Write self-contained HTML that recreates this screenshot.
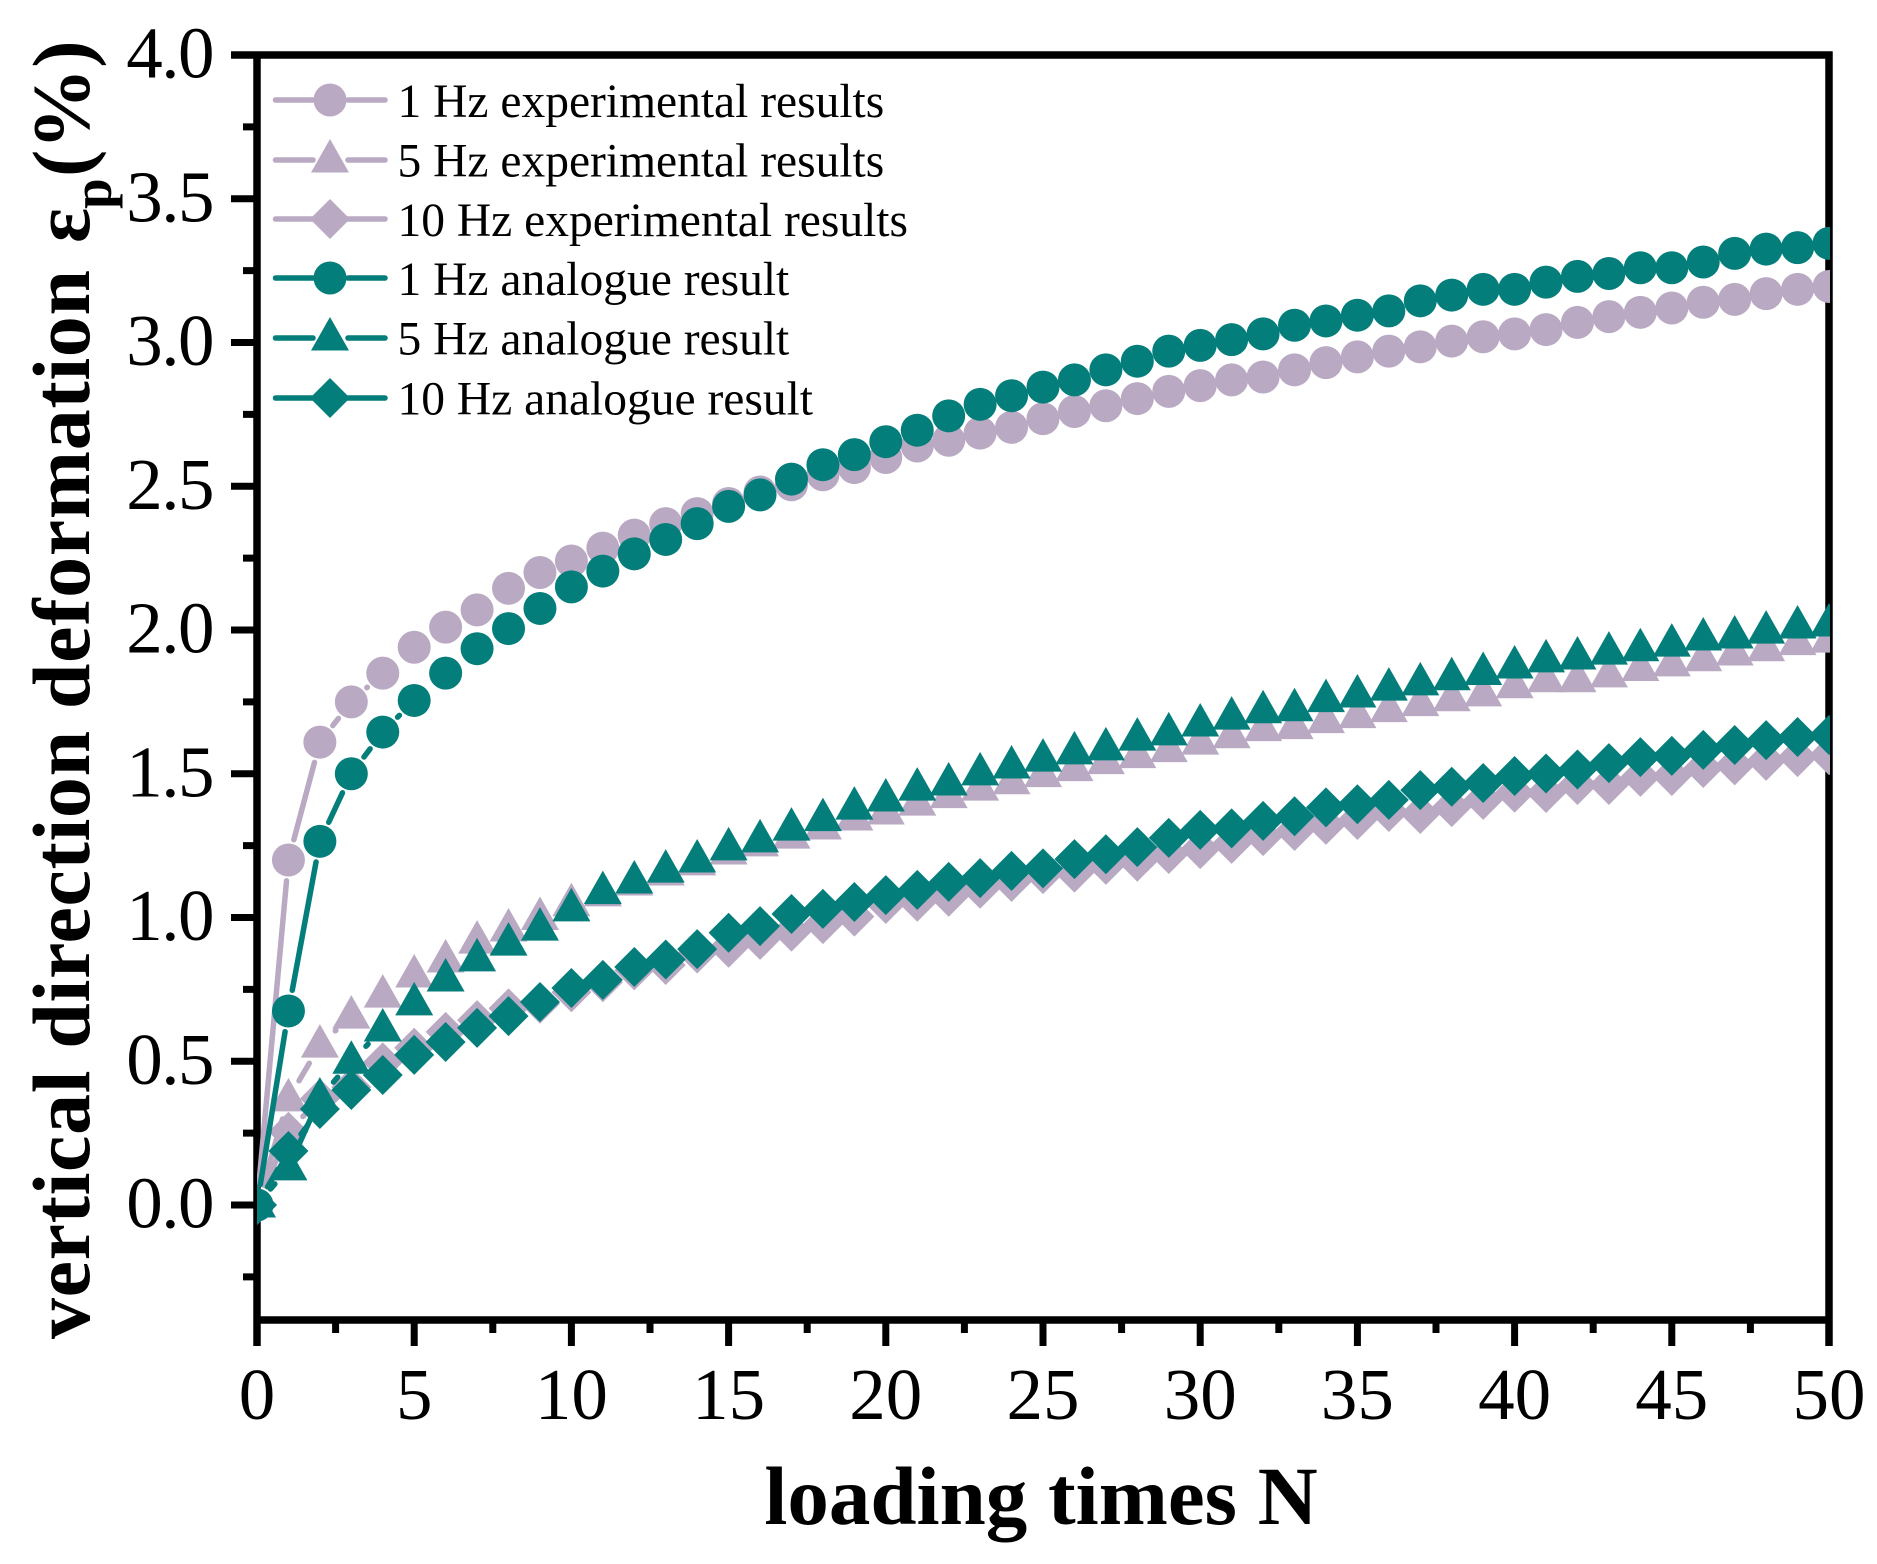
<!DOCTYPE html>
<html lang="en">
<head>
<meta charset="utf-8">
<title>Vertical direction deformation vs loading times</title>
<style>
  html, body { margin: 0; padding: 0; background: #fff; }
  svg { display: block; font-family: "Liberation Serif", "DejaVu Serif", serif; }
</style>
</head>
<body>
<svg id="chart" xmlns="http://www.w3.org/2000/svg" width="1877" height="1564" viewBox="0 0 1877 1564">
  <rect x="0" y="0" width="1877" height="1564" fill="#ffffff"/>
  <defs>
    <clipPath id="plot-clip"><rect x="257" y="55" width="1573" height="1265"/></clipPath>
  </defs>
  <g id="axes"></g>
  <g id="series" clip-path="url(#plot-clip)"></g>

  <text x="1041" y="1524" font-size="83" font-weight="bold" text-anchor="middle">loading times N</text>
  <text transform="translate(89,1339) rotate(-90)" font-size="82" font-weight="bold" textLength="1069">vertical direction deformation</text>
  <text transform="translate(89,243) rotate(-90)" font-size="82" font-weight="bold">ε</text>
  <text transform="translate(111,209) rotate(-90)" font-size="55" font-weight="bold">p</text>
  <text transform="translate(89,177) rotate(-90)" font-size="82" font-weight="bold">(%)</text>

  <g>
    <g>
      <path d="M275.500 100H313M348 100H385" stroke="#b9a9c3" stroke-width="5.500" stroke-linecap="round" fill="none"/>
      <circle cx="330" cy="100" r="16.5" fill="#b9a9c3"/>
      <text x="397.500" y="117" font-size="47.5">1 Hz experimental results</text>
    </g>
    <g>
      <path d="M275.500 160H313M348 160H385" stroke="#b9a9c3" stroke-width="5.500" stroke-linecap="round" fill="none"/>
      <polygon points="330,139 349,172.500 311,172.500" fill="#b9a9c3"/>
      <text x="397.500" y="176.500" font-size="47.5">5 Hz experimental results</text>
    </g>
    <g>
      <path d="M275.500 219H313M348 219H385" stroke="#b9a9c3" stroke-width="5.500" stroke-linecap="round" fill="none"/>
      <polygon points="330,199 350,219 330,239 310,219" fill="#b9a9c3"/>
      <text x="397.500" y="236" font-size="47.5">10 Hz experimental results</text>
    </g>
    <g>
      <path d="M275.500 278H313M348 278H385" stroke="#047e7a" stroke-width="5.500" stroke-linecap="round" fill="none"/>
      <circle cx="330" cy="278" r="16.5" fill="#047e7a"/>
      <text x="397.500" y="295" font-size="47.5">1 Hz analogue result</text>
    </g>
    <g>
      <path d="M275.500 338H313M348 338H385" stroke="#047e7a" stroke-width="5.500" stroke-linecap="round" fill="none"/>
      <polygon points="330,317 349,350.500 311,350.500" fill="#047e7a"/>
      <text x="397.500" y="354.500" font-size="47.5">5 Hz analogue result</text>
    </g>
    <g>
      <path d="M275.500 398H313M348 398H385" stroke="#047e7a" stroke-width="5.500" stroke-linecap="round" fill="none"/>
      <polygon points="330,378 350,398 330,418 310,398" fill="#047e7a"/>
      <text x="397.500" y="414.500" font-size="47.5">10 Hz analogue result</text>
    </g>
  </g>
</svg>
<script>
const loadingTimes = [0,1,2,3,4,5,6,7,8,9,10,11,12,13,14,15,16,17,18,19,20,21,22,23,24,25,26,27,28,29,30,31,32,33,34,35,36,37,38,39,40,41,42,43,44,45,46,47,48,49,50];
const exp1Hz = [0,1.2,1.61,1.75,1.85,1.94,2.01,2.07,2.145,2.2,2.24,2.285,2.33,2.37,2.405,2.44,2.48,2.505,2.54,2.565,2.6,2.64,2.66,2.685,2.705,2.735,2.76,2.78,2.805,2.83,2.85,2.87,2.88,2.905,2.93,2.95,2.97,2.985,3.005,3.02,3.03,3.045,3.07,3.09,3.105,3.12,3.14,3.15,3.17,3.185,3.195];
const exp5Hz = [0,0.369,0.556,0.657,0.73,0.8,0.852,0.918,0.96,1.0,1.048,1.082,1.12,1.155,1.19,1.228,1.256,1.283,1.315,1.346,1.367,1.398,1.424,1.45,1.472,1.497,1.518,1.542,1.563,1.584,1.61,1.632,1.657,1.664,1.685,1.702,1.723,1.744,1.761,1.778,1.806,1.827,1.827,1.844,1.866,1.882,1.9,1.92,1.935,1.956,1.965];
const exp10Hz = [0,0.255,0.37,0.41,0.496,0.547,0.602,0.643,0.684,0.7,0.74,0.775,0.816,0.835,0.875,0.895,0.922,0.951,0.977,1.003,1.047,1.055,1.072,1.1,1.124,1.151,1.156,1.183,1.194,1.221,1.238,1.256,1.283,1.301,1.322,1.339,1.367,1.36,1.384,1.409,1.434,1.433,1.461,1.461,1.489,1.492,1.52,1.529,1.545,1.558,1.565];
const sim1Hz = [0,0.675,1.265,1.5,1.645,1.755,1.85,1.935,2.005,2.075,2.15,2.205,2.265,2.315,2.37,2.43,2.47,2.525,2.575,2.61,2.655,2.695,2.745,2.785,2.815,2.845,2.87,2.905,2.935,2.97,2.99,3.01,3.03,3.06,3.075,3.095,3.11,3.145,3.165,3.185,3.185,3.21,3.23,3.24,3.26,3.26,3.28,3.31,3.325,3.33,3.345];
const sim5Hz = [0,0.129,0.372,0.5,0.612,0.703,0.786,0.856,0.911,0.963,1.03,1.09,1.127,1.165,1.2,1.242,1.27,1.311,1.344,1.384,1.412,1.45,1.468,1.503,1.527,1.551,1.576,1.59,1.624,1.642,1.673,1.697,1.719,1.726,1.758,1.774,1.798,1.816,1.834,1.852,1.875,1.896,1.906,1.923,1.935,1.951,1.972,1.979,1.996,2.014,2.021];
const sim10Hz = [0,0.188,0.334,0.4,0.452,0.522,0.567,0.616,0.657,0.706,0.755,0.783,0.828,0.854,0.89,0.947,0.97,1.012,1.03,1.054,1.078,1.096,1.124,1.137,1.162,1.171,1.203,1.22,1.245,1.277,1.305,1.31,1.336,1.352,1.383,1.394,1.409,1.443,1.455,1.468,1.492,1.501,1.515,1.537,1.558,1.562,1.583,1.6,1.617,1.628,1.635];

const xMajorTicks = [0,5,10,15,20,25,30,35,40,45,50];
const xMinorTicks = [2.5,7.5,12.5,17.5,22.5,27.5,32.5,37.5,42.5,47.5];
const yMajorTicks = [0,0.5,1,1.5,2,2.5,3,3.5,4];
const yMinorTicks = [-0.25,0.25,0.75,1.25,1.75,2.25,2.75,3.25,3.75];
const xTickLabels = ['0','5','10','15','20','25','30','35','40','45','50'];
const yTickLabels = ['0.0','0.5','1.0','1.5','2.0','2.5','3.0','3.5','4.0'];

const SVG_NS = 'http://www.w3.org/2000/svg';
const LAVENDER = '#b9a9c3';
const TEAL = '#047e7a';
const LEFT = 257, RIGHT = 1829, TOP = 55, BOTTOM = 1320;
const X_MIN = 0, X_MAX = 50, Y_MIN = -0.4, Y_MAX = 4;
const LINE_GAP = 21;
const SPINE_WIDTH = 7.5;

function xScale(v) { return LEFT + (v - X_MIN) / (X_MAX - X_MIN) * (RIGHT - LEFT); }
function yScale(v) { return BOTTOM - (v - Y_MIN) / (Y_MAX - Y_MIN) * (BOTTOM - TOP); }

function make(tag, attrs, parent) {
  const el = document.createElementNS(SVG_NS, tag);
  for (const k in attrs) el.setAttribute(k, attrs[k]);
  parent.appendChild(el);
  return el;
}

const axes = document.getElementById('axes');
const seriesRoot = document.getElementById('series');

function drawSpines() {
  const spineAttrs = [
    { name: 'left-spine', x1: LEFT, y1: TOP - 3.5, x2: LEFT, y2: BOTTOM + 26 },
    { name: 'bottom-spine', x1: LEFT, y1: BOTTOM, x2: RIGHT + 3.5, y2: BOTTOM },
    { name: 'top-spine', x1: LEFT - 26, y1: TOP, x2: RIGHT + 3.5, y2: TOP },
    { name: 'right-spine', x1: RIGHT, y1: TOP - 3.5, x2: RIGHT, y2: BOTTOM + 26 }
  ];
  spineAttrs.forEach(function (s) {
    const line = make('line', { x1: s.x1, y1: s.y1, x2: s.x2, y2: s.y2, stroke: '#000', 'stroke-width': SPINE_WIDTH }, axes);
    
    
  });
}

function drawXTicks() {
  xMajorTicks.forEach(function (v, i) {
    const px = xScale(v);
    const tick = make('line', { x1: px, y1: BOTTOM, x2: px, y2: BOTTOM + 26, stroke: '#000', 'stroke-width': 7 }, axes);
    
    
    const label = make('text', { x: px, y: 1419, 'font-size': 73, 'text-anchor': 'middle', fill: '#000' }, axes);
    label.textContent = xTickLabels[i];
    
    
  });
  xMinorTicks.forEach(function (v) {
    const px = xScale(v);
    const tick = make('line', { x1: px, y1: BOTTOM, x2: px, y2: BOTTOM + 13, stroke: '#000', 'stroke-width': 7 }, axes);
    
    
  });
}

function drawYTicks() {
  yMajorTicks.forEach(function (v, i) {
    const py = yScale(v);
    const tick = make('line', { x1: LEFT - 26, y1: py, x2: LEFT, y2: py, stroke: '#000', 'stroke-width': 7 }, axes);
    
    
    const label = make('text', { x: 213, y: py + 22.5, 'font-size': 73, 'text-anchor': 'end', 'letter-spacing': -1.5, fill: '#000' }, axes);
    label.textContent = yTickLabels[i];
    
    
  });
  yMinorTicks.forEach(function (v) {
    const py = yScale(v);
    const tick = make('line', { x1: LEFT - 14, y1: py, x2: LEFT, y2: py, stroke: '#000', 'stroke-width': 7 }, axes);
    
    
  });
}

function drawMarker(kind, cx, cy, color, parent) {
  if (kind === 'circle') {
    return make('circle', { cx: cx, cy: cy, r: 16.5, fill: color }, parent);
  }
  if (kind === 'triangle') {
    const tri = [cx, cy - 21, cx + 19, cy + 12.5, cx - 19, cy + 12.5].join(' ');
    return make('polygon', { points: tri, fill: color }, parent);
  }
  const dia = [cx, cy - 20, cx + 20, cy, cx, cy + 20, cx - 20, cy].join(' ');
  return make('polygon', { points: dia, fill: color }, parent);
}

function drawSeries(name, values, kind, color) {
  const group = make('g', {}, seriesRoot);
  
  
  for (let i = 0; i < values.length - 1; i++) {
    const x0 = xScale(loadingTimes[i]), y0 = yScale(values[i]);
    const x1 = xScale(loadingTimes[i + 1]), y1 = yScale(values[i + 1]);
    const d = Math.hypot(x1 - x0, y1 - y0);
    if (d <= LINE_GAP * 2) continue;
    const ux = (x1 - x0) / d, uy = (y1 - y0) / d;
    const seg = make('line', {
      x1: x0 + ux * LINE_GAP, y1: y0 + uy * LINE_GAP,
      x2: x1 - ux * LINE_GAP, y2: y1 - uy * LINE_GAP,
      stroke: color, 'stroke-width': 5.5, 'stroke-linecap': 'round'
    }, group);
    
    
  }
  values.forEach(function (v, i) {
    const mark = drawMarker(kind, xScale(loadingTimes[i]), yScale(v), color, group);
    
    
  });
}

drawSpines();
drawXTicks();
drawYTicks();
drawSeries('series-1hz-experimental', exp1Hz, 'circle', LAVENDER);
drawSeries('series-5hz-experimental', exp5Hz, 'triangle', LAVENDER);
drawSeries('series-10hz-experimental', exp10Hz, 'diamond', LAVENDER);
drawSeries('series-1hz-analogue', sim1Hz, 'circle', TEAL);
drawSeries('series-5hz-analogue', sim5Hz, 'triangle', TEAL);
drawSeries('series-10hz-analogue', sim10Hz, 'diamond', TEAL);
</script>
</body>
</html>
